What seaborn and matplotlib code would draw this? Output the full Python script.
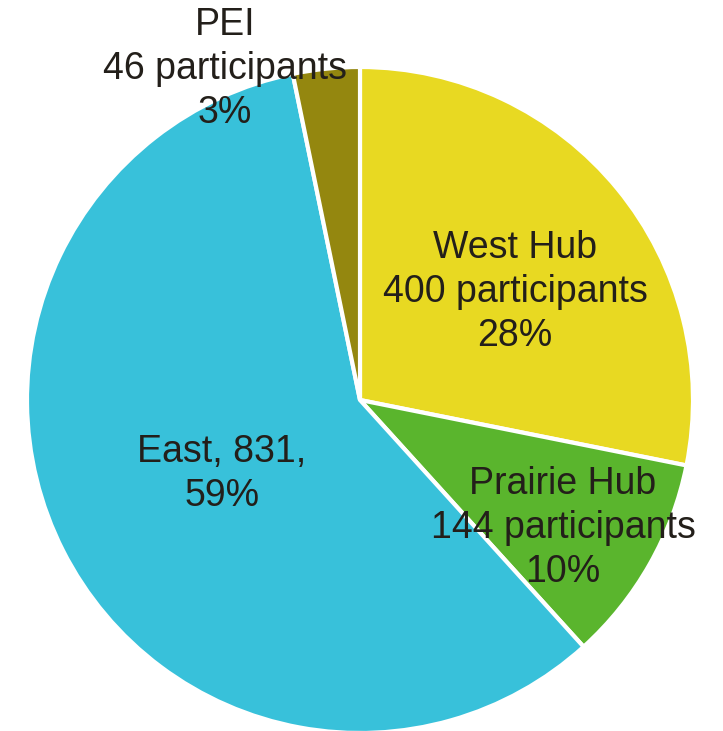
import matplotlib
matplotlib.use("Agg")
import matplotlib.pyplot as plt
import seaborn as sns

sns.set_theme(style="white")
plt.rcParams['font.family'] = ['Liberation Sans', 'DejaVu Sans']

# data
regions = ["West Hub", "Prairie Hub", "East", "PEI"]
participants = [400, 144, 831, 46]
percent_labels = ["28%", "10%", "59%", "3%"]
slice_colors = ["#e8d922", "#5ab52d", "#38c1da", "#94870f"]

text_color = "#231f1a"

fig = plt.figure(figsize=(7.23, 7.31), dpi=100)
ax = fig.add_axes([0, 0, 1, 1])

cx, cy, r = 360, 731 - 400, 333
wedges, _ = ax.pie(participants, colors=slice_colors, startangle=90,
                   counterclock=False, center=(cx, cy), radius=r,
                   wedgeprops=dict(edgecolor="white", linewidth=3))
ax.set_xlim(0, 723)
ax.set_ylim(0, 731)
ax.set_aspect("equal")
ax.axis("off")

label_texts = [
    f"{regions[0]}\n{participants[0]} participants\n{percent_labels[0]}",
    f"{regions[1]}\n{participants[1]} participants\n{percent_labels[1]}",
    f"{regions[2]}, {participants[2]},\n{percent_labels[2]}",
    f"{regions[3]}\n{participants[3]} participants\n{percent_labels[3]}",
]
# label offsets from centre (pixels, y up)
offsets = [(155, 108), (203, -128), (-138, -74), (-135, 331)]
for txt, (dx, dy) in zip(label_texts, offsets):
    ax.text(cx + dx, cy + dy, txt, ha="center", va="center",
            fontsize=27, color=text_color, linespacing=1.28)

fig.savefig("out.png", dpi=100)
